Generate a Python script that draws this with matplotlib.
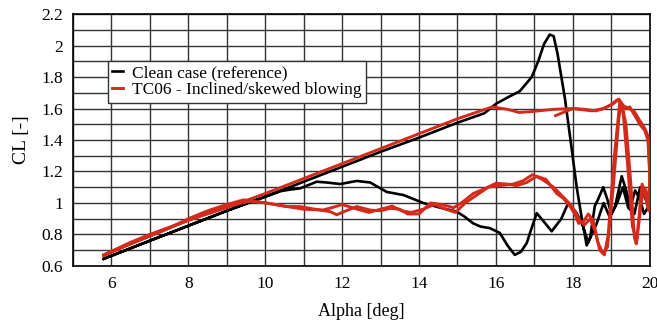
import matplotlib.pyplot as plt
from matplotlib.ticker import MultipleLocator

# Clean case, one pitching cycle (up-stroke then down-stroke)
clean_alpha = [5.8, 7.0, 8.0, 9.0, 10.0, 11.0, 12.0, 13.0, 14.0, 15.0, 15.7,
               16.0, 16.3, 16.62, 16.93, 17.1, 17.25, 17.4, 17.5, 17.6, 17.79,
               17.95, 18.1, 18.22, 18.36, 18.45, 18.57, 18.65, 18.79, 18.9,
               19.0, 19.1, 19.27, 19.4, 19.5, 19.62, 19.75, 19.85, 19.95, 20.0,
               19.9, 19.75, 19.6, 19.44, 19.3, 19.15, 18.96, 18.8, 18.62, 18.4,
               18.25, 18.1, 17.88, 17.7, 17.45, 17.25, 17.06, 16.9, 16.8, 16.65,
               16.49, 16.3, 16.1, 15.84, 15.6, 15.41, 15.2, 14.98, 14.55, 14.11,
               13.6, 13.16, 12.73, 12.38, 11.95, 11.6, 11.34, 10.91, 10.65,
               10.4, 10.0, 9.0, 8.0, 7.0, 5.8]
clean_cl = [0.645, 0.76, 0.855, 0.95, 1.04, 1.135, 1.23, 1.325, 1.415, 1.51, 1.57,
            1.63, 1.67, 1.71, 1.80, 1.90, 2.01, 2.07, 2.06, 1.95, 1.67,
            1.38, 1.10, 0.92, 0.73, 0.78, 0.98, 1.02, 1.10, 1.02,
            0.93, 0.98, 1.17, 1.07, 0.98, 1.08, 1.02, 0.93, 0.97, 0.95,
            1.02, 1.10, 0.93, 0.97, 1.10, 1.00, 0.91, 1.00, 0.87, 0.75,
            0.86, 0.935, 1.00, 0.90, 0.82, 0.88, 0.935, 0.82, 0.745, 0.69,
            0.67, 0.73, 0.81, 0.84, 0.85, 0.87, 0.91, 0.945, 0.97, 1.00,
            1.05, 1.07, 1.13, 1.14, 1.12, 1.13, 1.135, 1.093, 1.085,
            1.075, 1.04, 0.95, 0.855, 0.76, 0.645]

# TC06, first run (starts part-way through the up-stroke)
tc06_a_alpha = [17.55, 17.8, 18.0, 18.3, 18.6, 18.8, 19.0, 19.15, 19.25, 19.35,
                19.48, 19.6, 19.74, 19.87, 19.95, 20.0, 19.98, 19.9, 19.85, 19.78,
                19.65, 19.6, 19.5, 19.38, 19.28, 19.2, 19.05, 18.9, 18.78, 18.65,
                18.53, 18.4, 18.27, 18.15, 18.05, 17.92, 17.75, 17.58, 17.3, 17.06,
                16.8, 16.54, 16.3, 16.0, 15.7, 15.41, 15.1, 14.9, 14.6, 14.3,
                14.0, 13.7, 13.5, 13.25, 13.0, 12.73, 12.38, 12.1, 11.86, 11.69,
                11.3, 10.9, 10.56, 10.04, 9.44, 9.0, 8.5, 8.0, 7.5, 7.0, 6.5, 5.8]
tc06_a_cl = [1.555, 1.58, 1.60, 1.595, 1.585, 1.60, 1.625, 1.655, 1.64, 1.60,
             1.61, 1.56, 1.50, 1.46, 1.40, 1.20, 1.00, 1.08, 1.10, 1.00,
             0.74, 0.78, 1.15, 1.50, 1.62, 1.55, 1.10, 0.72, 0.68, 0.75,
             0.89, 0.93, 0.88, 0.87, 0.93, 0.98, 1.03, 1.06, 1.15, 1.17,
             1.13, 1.11, 1.12, 1.125, 1.09, 1.06, 1.00, 0.97, 0.99, 1.00,
             0.93, 0.93, 0.96, 0.966, 0.95, 0.955, 0.977, 0.95, 0.925, 0.945,
             0.96, 0.977, 0.977, 1.00, 1.02, 0.99, 0.95, 0.90, 0.84, 0.79, 0.74, 0.67]

# TC06, second run (full cycle)
tc06_b_alpha = [5.8, 6.5, 7.0, 7.5, 8.0, 8.5, 9.0, 10.0, 11.0, 12.0, 13.0, 14.0,
                15.0, 15.9, 16.3, 16.6, 16.9, 17.5, 18.0, 18.5, 18.8, 19.05, 19.2,
                19.3, 19.45, 19.6, 19.75, 19.88, 19.96, 20.0, 19.97, 19.88, 19.8,
                19.66, 19.55, 19.42, 19.3, 19.22, 19.08, 18.92, 18.82, 18.7, 18.58,
                18.45, 18.3, 18.18, 18.05, 17.9, 17.7, 17.5, 17.2, 16.95, 16.7,
                16.45, 16.1, 15.8, 15.5, 15.2, 14.95, 14.7, 14.4, 14.1, 13.8,
                13.55, 13.3, 13.0, 12.7, 12.4, 12.0, 11.8, 11.5, 11.0, 10.5, 10.0,
                9.6, 9.2, 8.7, 8.2, 7.6, 7.0, 6.4, 5.8]
tc06_b_cl = [0.67, 0.75, 0.80, 0.845, 0.89, 0.93, 0.97, 1.06, 1.155, 1.25, 1.345, 1.44,
             1.535, 1.61, 1.595, 1.575, 1.58, 1.595, 1.60, 1.585, 1.60, 1.63, 1.66,
             1.62, 1.60, 1.58, 1.52, 1.47, 1.42, 1.15, 0.95, 1.05, 1.12,
             0.76, 0.85, 1.25, 1.60, 1.64, 1.30, 0.80, 0.67, 0.70, 0.82,
             0.90, 0.86, 0.89, 0.95, 1.00, 1.05, 1.10, 1.15, 1.18, 1.14,
             1.12, 1.11, 1.10, 1.05, 1.00, 0.94, 0.96, 0.99, 0.96, 0.94,
             0.95, 0.98, 0.96, 0.94, 0.96, 0.99, 0.975, 0.955, 0.96, 0.98, 1.00,
             1.01, 0.99, 0.96, 0.91, 0.85, 0.79, 0.73, 0.665]

red = '#d42a1c'
serif = 'Liberation Serif'

fig = plt.figure(figsize=(6.57, 3.2), dpi=100)
ax = fig.add_axes([0.111, 0.169, 0.878, 0.787])

ax.plot(clean_alpha, clean_cl, color='black', lw=1.9, label='Clean case (reference)', zorder=3)
ax.plot(tc06_b_alpha, tc06_b_cl, color=red, lw=2.1, label='TC06 - Inclined/skewed blowing', zorder=4)
ax.plot(tc06_a_alpha, tc06_a_cl, color=red, lw=2.1, zorder=4)

ax.set_xlim(5, 20)
ax.set_ylim(0.6, 2.2)
ax.xaxis.set_major_locator(MultipleLocator(2))
ax.xaxis.set_minor_locator(MultipleLocator(1))
ax.yaxis.set_minor_locator(MultipleLocator(0.1))
ax.set_yticks([0.6, 0.8, 1, 1.2, 1.4, 1.6, 1.8, 2, 2.2])
ax.set_yticklabels(['0.6', '0.8', '1', '1.2', '1.4', '1.6', '1.8', '2', '2.2'])
ax.grid(which='both', color='#333333', lw=1.0)
ax.set_axisbelow(True)
ax.tick_params(which='both', length=0, labelsize=12.5, pad=7)
for lbl in ax.get_xticklabels() + ax.get_yticklabels():
    lbl.set_family(serif)
for s in ax.spines.values():
    s.set_linewidth(1.2)

ax.set_ylabel('CL [-]', family=serif, fontsize=14, labelpad=8)
ax.set_xlabel('Alpha [deg]', family=serif, fontsize=13, labelpad=8)

leg = ax.legend(loc='upper left', bbox_to_anchor=(0.061, 0.815), borderaxespad=0,
                handlelength=0.6, handletextpad=0.5, borderpad=0.25, labelspacing=0.05,
                prop={'family': serif, 'size': 12.5}, fancybox=False,
                framealpha=1, edgecolor='#333333')
leg.get_frame().set_linewidth(1.0)

fig.savefig('out.png', dpi=100)
